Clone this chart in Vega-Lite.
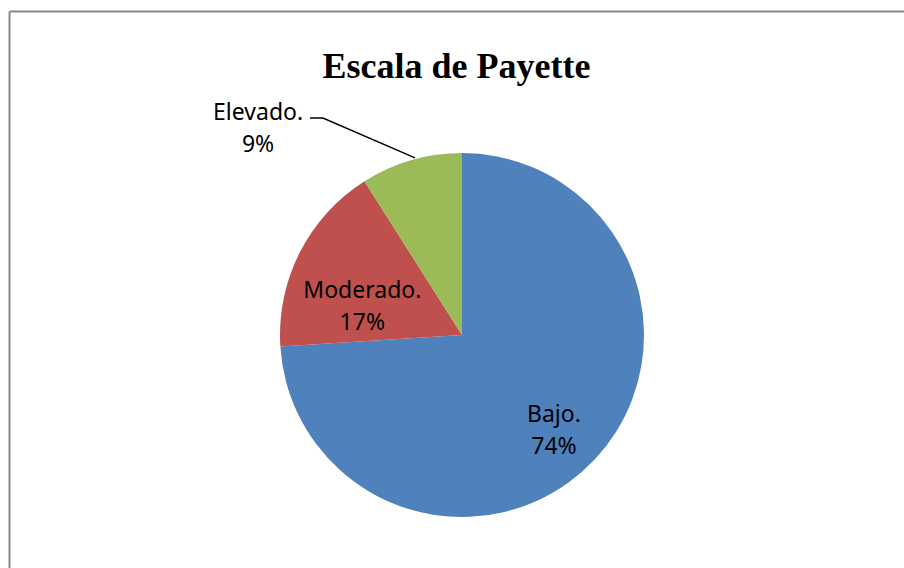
{
  "$schema": "https://vega.github.io/schema/vega-lite/v6.json",
  "width": 895,
  "height": 557,
  "autosize": {"type": "none"},
  "padding": {"left": 9, "top": 11, "right": 0, "bottom": 0},
  "background": "white",
  "config": {"view": {"stroke": null}},
  "title": {
    "text": "Escala de Payette",
    "font": "Liberation Serif",
    "fontSize": 36,
    "fontWeight": "bold",
    "color": "black",
    "anchor": "middle",
    "baseline": "alphabetic",
    "offset": -103
  },
  "data": {
    "values": [
      {"nivel": "Bajo.", "porcentaje": 74, "orden": 1, "etiqueta": "Bajo.\n74%"},
      {"nivel": "Moderado.", "porcentaje": 17, "orden": 2, "etiqueta": "Moderado.\n17%"},
      {"nivel": "Elevado.", "porcentaje": 9, "orden": 3, "etiqueta": "Elevado.\n9%"}
    ]
  },
  "layer": [
    {
      "data": {
        "values": [
          {"paso": 1, "px": -0.835, "py": 1.192},
          {"paso": 2, "px": -0.764, "py": 1.192},
          {"paso": 3, "px": -0.258, "py": 0.973}
        ]
      },
      "mark": {"type": "line", "color": "black", "strokeWidth": 1.5},
      "encoding": {
        "x": {
          "field": "px", "type": "quantitative",
          "scale": {"domain": [-2.489, 2.4286], "nice": false, "zero": false},
          "axis": {"orient": "top", "domain": true, "domainColor": "#878787", "domainWidth": 2, "ticks": false, "labels": false, "grid": false, "title": null}
        },
        "y": {
          "field": "py", "type": "quantitative",
          "scale": {"domain": [-1.2802, 1.7802], "nice": false, "zero": false},
          "axis": {"orient": "left", "domain": true, "domainColor": "#878787", "domainWidth": 2, "ticks": false, "labels": false, "grid": false, "title": null}
        },
        "order": {"field": "paso", "type": "quantitative"}
      }
    },
    {
      "mark": {"type": "arc", "outerRadius": 182},
      "encoding": {
        "x": {"datum": 0, "type": "quantitative"},
        "y": {"datum": 0, "type": "quantitative"},
        "theta": {"field": "porcentaje", "type": "quantitative", "stack": true},
        "order": {"field": "orden", "type": "quantitative", "sort": "ascending"},
        "color": {
          "field": "nivel",
          "type": "nominal",
          "scale": {"domain": ["Bajo.", "Moderado.", "Elevado."], "range": ["#4F81BD", "#C0504D", "#9BBB59"]},
          "legend": null
        }
      }
    },
    {
      "mark": {"type": "text", "radius": 133, "dx": -5, "dy": -11, "font": "Noto Sans", "fontSize": 23, "lineBreak": "\n", "lineHeight": 32, "color": "black"},
      "encoding": {
        "x": {"datum": 0, "type": "quantitative"},
        "y": {"datum": 0, "type": "quantitative"},
        "theta": {"field": "porcentaje", "type": "quantitative", "stack": true},
        "order": {"field": "orden", "type": "quantitative", "sort": "ascending"},
        "text": {"condition": {"test": "datum.nivel === 'Bajo.'", "field": "etiqueta"}, "value": ""}
      }
    },
    {
      "mark": {"type": "text", "radius": 104, "dx": -7, "dy": 3, "font": "Noto Sans", "fontSize": 23, "lineBreak": "\n", "lineHeight": 32, "color": "black"},
      "encoding": {
        "x": {"datum": 0, "type": "quantitative"},
        "y": {"datum": 0, "type": "quantitative"},
        "theta": {"field": "porcentaje", "type": "quantitative", "stack": true},
        "order": {"field": "orden", "type": "quantitative", "sort": "ascending"},
        "text": {"condition": {"test": "datum.nivel === 'Moderado.'", "field": "etiqueta"}, "value": ""}
      }
    },
    {
      "mark": {"type": "text", "radius": 290, "dx": -123, "dy": 56, "font": "Noto Sans", "fontSize": 23, "lineBreak": "\n", "lineHeight": 32, "color": "black"},
      "encoding": {
        "x": {"datum": 0, "type": "quantitative"},
        "y": {"datum": 0, "type": "quantitative"},
        "theta": {"field": "porcentaje", "type": "quantitative", "stack": true},
        "order": {"field": "orden", "type": "quantitative", "sort": "ascending"},
        "text": {"condition": {"test": "datum.nivel === 'Elevado.'", "field": "etiqueta"}, "value": ""}
      }
    }
  ]
}
